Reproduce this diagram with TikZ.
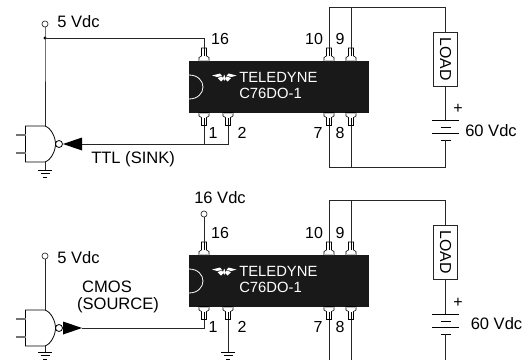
\documentclass[tikz,border=0pt]{standalone}
\usepackage{fontspec}
\setmainfont{Liberation Sans}
\usepackage{tikz}
\usetikzlibrary{arrows,calc,positioning}

\tikzset{
  wire/.style={draw=black!85,line width=0.6pt},
  stub/.style={draw=black!55,line width=0.8pt},
  lbl/.style={inner sep=0pt,font=\fontsize{12.4}{15}\selectfont},
  pinnum/.style={inner sep=0pt,font=\fontsize{12}{14}\selectfont},
  chiptext/.style={inner sep=0pt,anchor=west,text=white,font=\fontsize{11.1}{13}\selectfont},
  terminal/.style={circle,draw=black!85,fill=white,line width=0.5pt,minimum size=4.6pt,inner sep=0pt},
  pinshape/.pic={
    \draw [line width=0.4pt,fill=white] (-2.5,-13) -- (2.5,-13) -- (2.5,-5) -- (5,-3.5) -- (5,0) -- (-5,0) -- (-5,-3.5) -- (-2.5,-5) -- cycle ;
    \fill [black!25] (-5,-1.5) rectangle (5,0) ;
    \draw [line width=0.4pt] (0,-13) -- (0,-5) ;
  },
  chip/.pic={
    % body, corner at top left
    \node (-body) [fill=black!90,minimum width=135pt,minimum height=38.5pt,inner sep=0pt,anchor=north west] at (0,0) {} ;
    \draw [white,line width=0.6pt] (0,14) .. controls (9,14) and (14,20) .. (14,26) .. controls (14,32) and (9,38) .. (0,38) ;
    % logo
    \fill [white] (23,14.5) -- (31,12.5) -- (33,15) -- (28,16) -- cycle ;
    \fill [white] (47.5,14.5) -- (39.5,12.5) -- (37.5,15) -- (42.5,16) -- cycle ;
    \fill [white] (28.5,17) -- (33,15.5) -- (34.5,18) -- (32,20.5) -- cycle ;
    \fill [white] (42,17) -- (37.5,15.5) -- (36,18) -- (38.5,20.5) -- cycle ;
    \fill [white] (35.25,13.5) -- (36.5,17) -- (35.25,20) -- (34,17) -- cycle ;
    \node (-name) [chiptext] at (50,16) {TELEDYNE} ;
    \node (-type) [chiptext] at (50,32) {C76DO-1} ;
    % pins
    \pic at (15,0) {pinshape} ;
    \pic at (140,0) {pinshape} ;
    \pic at (162,0) {pinshape} ;
    \pic [yscale=-1] at (15,51.5) {pinshape} ;
    \pic [yscale=-1] at (39,51.5) {pinshape} ;
    \pic [yscale=-1] at (140,51.5) {pinshape} ;
    \pic [yscale=-1] at (162,51.5) {pinshape} ;
    \coordinate (-p16) at (15,-13) ;
    \coordinate (-p10) at (140,-13) ;
    \coordinate (-p9) at (162,-13) ;
    \coordinate (-p1) at (15,64.5) ;
    \coordinate (-p2) at (39,64.5) ;
    \coordinate (-p7) at (140,64.5) ;
    \coordinate (-p8) at (162,64.5) ;
    \node (-n10) [pinnum] at (125,-22) {10} ;
    \node (-n9) [pinnum] at (151,-22) {9} ;
    \node (-n1) [pinnum] at (24,72) {1} ;
    \node (-n2) [pinnum] at (53,72) {2} ;
    \node (-n7) [pinnum] at (129,72) {7} ;
    \node (-n8) [pinnum] at (151,72) {8} ;
  },
  gate/.pic={
    % nand body, origin at the bubble
    \draw [line width=0.6pt,fill=white] (-33.5,-18) -- (-14,-18) .. controls (-8,-16) and (-3.5,-7) .. (-3.5,0) .. controls (-3.5,7) and (-8,16) .. (-14,18) -- (-33.5,18) -- cycle ;
    \draw [stub] (-43,-9) -- (-33.5,-9) ;
    \draw [stub] (-43,9) -- (-33.5,9) ;
    \draw [line width=0.6pt,fill=white] (0,0) circle (3.5) ;
    \coordinate (-vcc) at (-14,-18) ;
    \coordinate (-gnd) at (-14,18) ;
  },
  earth/.pic={
    \draw [line width=0.6pt] (-7,0) -- (7,0) ;
    \draw [line width=0.6pt] (-4.5,3.5) -- (4.5,3.5) ;
    \draw [line width=0.6pt] (-2,7) -- (2,7) ;
  },
  battery/.pic={
    \draw [line width=0.6pt] (-13.5,0) -- (13.5,0) ;
    \draw [line width=0.6pt] (-5,7) -- (5,7) ;
    \draw [line width=0.6pt] (-13.5,13.5) -- (13.5,13.5) ;
    \draw [line width=0.6pt] (-5,20) -- (5,20) ;
    \coordinate (-top) at (0,0) ;
    \coordinate (-bot) at (0,20) ;
  },
  loadbox/.style={draw=black!85,fill=white,line width=0.6pt,minimum width=18pt,minimum height=40.5pt,inner sep=0pt},
}

\begin{document}
\begin{tikzpicture}[x=0.75pt,y=-0.75pt]
%
  \useasboundingbox (0,0) rectangle (530,360) ;
%
% upper circuit: sink
%
  \pic (ta) at (189,61) {chip} ;
  \pic (tg) at (59,144) {gate} ;
  \pic at (45,170) {earth} ;
  \pic (tb) at (445.5,120) {battery} ;
%
  \node (tvcc) [terminal] at (45,24) {} ;
  \node (tvccl) [lbl,anchor=west] at (57,22) {5 Vdc} ;
  \coordinate (tjoin) at (45,38) ;
  \coordinate (tearth) at (45,170) ;
  \fill (tjoin) circle (1.6) ;
  \node (tn16) [pinnum] at (220,39) {16} ;
  \node (tsink) [lbl,anchor=west] at (91,159) {TTL (SINK)} ;
  \node (tload) [loadbox] at (445.5,59) {} ;
  \node (tloadl) [lbl,rotate=-90,font=\fontsize{11.9}{14}\selectfont] at (tload) {LOAD} ;
  \node (tplus) [pinnum] at (458,109) {+} ;
  \node (tvolt) [lbl,anchor=west] at (465,131) {60 Vdc} ;
  \coordinate (tarrow) at (82,144) ;
  \coordinate (ttop) at (329,7) ;
  \coordinate (tbot) at (329,167) ;
  \fill (tarrow) ++(0,-6.5) -- (63,144) -- (82,150.5) -- cycle ;
%
  \draw [wire] (tvcc) -- (tjoin) -- (tjoin |- tg-vcc) ;
  \draw [wire] (tjoin) -| (ta-p16) ;
  \draw [wire] (tearth |- tg-gnd) -- (tearth) ;
  \draw [wire] (ta-p1) |- (tarrow) ;
  \draw [wire] (ta-p2) |- (ta-p1 |- tarrow) ;
  \draw [wire] (ta-p10) -- (ttop) -| (tload.north) ;
  \draw [wire] (ta-p9) -- (ta-p9 |- ttop) ;
  \draw [wire] (tload.south) -- (tb-top) ;
  \draw [wire] (tb-bot) |- (tbot) -- (ta-p7) ;
  \draw [wire] (ta-p8) -- (ta-p8 |- tbot) ;
%
% lower circuit: source
%
  \pic (ba) at (189,255) {chip} ;
  \pic (bg) at (59,328) {gate} ;
  \pic at (45,352) {earth} ;
  \pic at (228,352) {earth} ;
  \pic (bb) at (445.5,314) {battery} ;
%
  \node (bvcc) [terminal] at (45,256) {} ;
  \node (bvccl) [lbl,anchor=west] at (57,258) {5 Vdc} ;
  \node (bchipv) [terminal] at (204,214) {} ;
  \node (bchipl) [lbl] at (220,198) {16 Vdc} ;
  \node (bn16) [pinnum] at (220,232.5) {16} ;
  \node (bcmos) [lbl] at (107,287) {CMOS} ;
  \node (bsource) [lbl] at (118,305.5) {(SOURCE)} ;
  \node (bload) [loadbox] at (445.5,252) {} ;
  \node (bloadl) [lbl,rotate=-90,font=\fontsize{11.9}{14}\selectfont] at (bload) {LOAD} ;
  \node (bplus) [pinnum] at (458,303) {+} ;
  \node (bvolt) [lbl,anchor=west] at (470.5,324) {60 Vdc} ;
  \coordinate (barrow) at (82,328) ;
  \coordinate (bearth) at (45,352) ;
  \coordinate (bearthb) at (228,352) ;
  \coordinate (btop) at (329,200) ;
  \coordinate (bcut7) at (329,360) ;
  \coordinate (bcut8) at (351,360) ;
  \coordinate (bcutb) at (445.5,360) ;
  \fill (barrow) -- (63,321.5) -- (63,334.5) -- cycle ;
%
  \draw [wire] (bvcc) -- (bvcc |- bg-vcc) ;
  \draw [wire] (bearth |- bg-gnd) -- (bearth) ;
  \draw [wire] (bchipv) -- (ba-p16) ;
  \draw [wire] (ba-p1) |- (barrow) ;
  \draw [wire] (ba-p2) -- (bearthb) ;
  \draw [wire] (ba-p10) -- (btop) -| (bload.north) ;
  \draw [wire] (ba-p9) -- (ba-p9 |- btop) ;
  \draw [wire] (bload.south) -- (bb-top) ;
  \draw [wire] (bb-bot) -- (bcutb) ;
  \draw [wire] (ba-p7) -- (bcut7) ;
  \draw [wire] (ba-p8) -- (bcut8) ;
%
\end{tikzpicture}
\end{document}
